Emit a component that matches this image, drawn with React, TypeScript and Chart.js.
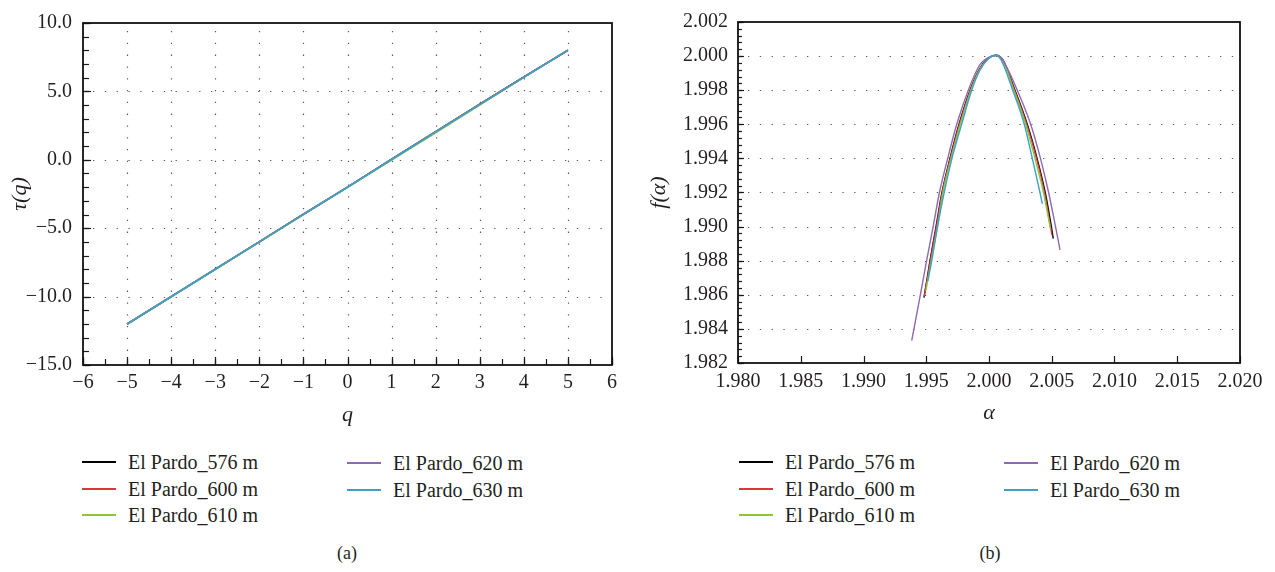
import React, { useEffect, useRef } from "react";
import { Chart, registerables } from "chart.js";

Chart.register(...registerables);

// ---------- data ----------
const seriesNames = ["El Pardo_576 m", "El Pardo_600 m", "El Pardo_610 m", "El Pardo_620 m", "El Pardo_630 m"];
const seriesColors = ["#000000", "#d9363e", "#8cc63f", "#8e6bb1", "#3ba3c6"];

// (a) tau(q)
const qValues = [-5, -4, -3, -2, -1, 0, 1, 2, 3, 4, 5];
const tau576 = [-12.0, -10.0, -8.0, -6.0, -3.98, -2.0, 0.04, 2.05, 4.06, 6.05, 8.0];
const tau600 = [-11.99, -9.99, -7.99, -5.99, -3.97, -2.0, 0.03, 2.04, 4.06, 6.04, 8.02];
const tau610 = [-12.01, -10.01, -8.0, -6.01, -4.0, -2.02, -0.02, 1.98, 4.0, 6.02, 8.04];
const tau620 = [-12.03, -10.02, -8.01, -6.0, -3.99, -2.0, 0.03, 2.05, 4.05, 6.04, 8.01];
const tau630 = [-12.02, -10.01, -8.0, -6.0, -3.99, -2.01, 0.02, 2.04, 4.05, 6.03, 8.02];

// (b) f(alpha)
const alpha576 = [1.99482, 1.9953, 1.99578, 1.99625, 1.99689, 1.99761, 1.99849, 1.99921, 1.99991, 2.00056, 2.0011, 2.00207, 2.00305, 2.00383, 2.00448, 2.00497, 2.00512];
const f576 = [1.98583, 1.988, 1.99, 1.992, 1.994, 1.996, 1.998, 1.9992, 1.99985, 2.00005, 1.99979, 1.998, 1.996, 1.994, 1.992, 1.99, 1.9893];
const alpha600 = [1.99484, 1.99533, 1.99581, 1.99628, 1.99692, 1.99765, 1.99852, 1.99923, 1.99992, 2.00055, 2.00108, 2.00203, 2.003, 2.00378, 2.00442, 2.0049, 2.00502];
const f600 = [1.9859, 1.988, 1.99, 1.992, 1.994, 1.996, 1.998, 1.9992, 1.99985, 2.00005, 1.99979, 1.998, 1.996, 1.994, 1.992, 1.99, 1.9895];
const alpha610 = [1.99497, 1.9954, 1.99589, 1.99633, 1.99698, 1.99771, 1.99856, 1.99926, 1.99994, 2.00055, 2.00105, 2.00198, 2.00292, 2.00366, 2.00434, 2.0049];
const f610 = [1.98625, 1.988, 1.99, 1.992, 1.994, 1.996, 1.998, 1.9992, 1.99985, 2.00005, 1.99979, 1.998, 1.996, 1.994, 1.992, 1.98985];
const alpha620 = [1.99384, 1.99402, 1.99453, 1.99503, 1.99555, 1.99605, 1.99671, 1.99743, 1.99835, 1.99928, 1.9999, 2.00048, 2.00105, 2.00225, 2.00332, 2.0041, 2.00475, 2.0053, 2.00566];
const f620 = [1.98331, 1.984, 1.986, 1.988, 1.99, 1.992, 1.994, 1.996, 1.998, 1.9995, 1.9999, 2.00005, 1.9998, 1.998, 1.996, 1.994, 1.992, 1.99, 1.98863];
const alpha630 = [1.99512, 1.99544, 1.9959, 1.99643, 1.99705, 1.99782, 1.99862, 1.9993, 1.99995, 2.0005, 2.00095, 2.00189, 2.00281, 2.00345, 2.00406, 2.00425];
const f630 = [1.9868, 1.988, 1.99, 1.992, 1.994, 1.996, 1.998, 1.9992, 1.99985, 2.00005, 1.99979, 1.998, 1.996, 1.994, 1.992, 1.99133];

// tick labels
const xTicksA = [-6, -5, -4, -3, -2, -1, 0, 1, 2, 3, 4, 5, 6];
const yTicksA = [-15, -10, -5, 0, 5, 10];
const xTicksB = [1.98, 1.985, 1.99, 1.995, 2.0, 2.005, 2.01, 2.015, 2.02];
const yTicksB = [1.982, 1.984, 1.986, 1.988, 1.99, 1.992, 1.994, 1.996, 1.998, 2.0, 2.002];

// ---------- helpers ----------
const FONT = "'Liberation Serif', 'Times New Roman', serif";
const TEXT = "#231f20";

const fmt = (v: number, d: number) => {
  const s = Math.abs(v).toFixed(d);
  return (v < -1e-9 ? "\u2212" : "") + s;
};

function range(a: number, b: number, step: number) {
  const out: number[] = [];
  const n = Math.round((b - a) / step);
  for (let i = 0; i <= n; i++) out.push(a + i * step);
  return out;
}

type FrameCfg = {
  xGrid: number[];
  yGrid: number[];
  xMajor: number[];
  xMinor: number[];
  yMajor: number[];
  yMinor: number[];
  xMajorLen: number;
  xMinorLen: number;
  yMajorLen: number;
  yMinorLen: number;
};

function framePlugin(id: string, cfg: FrameCfg) {
  return {
    id,
    beforeDatasetsDraw(chart: any) {
      const { ctx, chartArea: a, scales } = chart;
      const xs = scales.x;
      const ys = scales.y;
      ctx.save();
      ctx.strokeStyle = "#5a5a5a";
      ctx.lineWidth = 1.2;
      ctx.setLineDash([1.3, 10.5]);
      for (const v of cfg.xGrid) {
        const px = Math.round(xs.getPixelForValue(v)) + 0.5;
        ctx.lineDashOffset = -8;
        ctx.beginPath();
        ctx.moveTo(px, a.top);
        ctx.lineTo(px, a.bottom);
        ctx.stroke();
      }
      for (const v of cfg.yGrid) {
        const py = Math.round(ys.getPixelForValue(v)) + 0.5;
        ctx.lineDashOffset = -10;
        ctx.beginPath();
        ctx.moveTo(a.left, py);
        ctx.lineTo(a.right, py);
        ctx.stroke();
      }
      ctx.restore();
    },
    afterDatasetsDraw(chart: any) {
      const { ctx, chartArea: a, scales } = chart;
      const xs = scales.x;
      const ys = scales.y;
      ctx.save();
      ctx.setLineDash([]);
      ctx.strokeStyle = "#1a1a1a";
      ctx.lineWidth = 1.2;
      const tick = (x1: number, y1: number, x2: number, y2: number) => {
        ctx.beginPath();
        ctx.moveTo(x1, y1);
        ctx.lineTo(x2, y2);
        ctx.stroke();
      };
      for (const v of cfg.xMinor) {
        const px = Math.round(xs.getPixelForValue(v)) + 0.5;
        tick(px, a.bottom, px, a.bottom - cfg.xMinorLen);
      }
      for (const v of cfg.xMajor) {
        const px = Math.round(xs.getPixelForValue(v)) + 0.5;
        tick(px, a.bottom, px, a.bottom - cfg.xMajorLen);
      }
      for (const v of cfg.yMinor) {
        const py = Math.round(ys.getPixelForValue(v)) + 0.5;
        tick(a.left, py, a.left + cfg.yMinorLen, py);
      }
      for (const v of cfg.yMajor) {
        const py = Math.round(ys.getPixelForValue(v)) + 0.5;
        tick(a.left, py, a.left + cfg.yMajorLen, py);
      }
      ctx.lineWidth = 1.8;
      ctx.strokeStyle = "#111";
      ctx.strokeRect(a.left, a.top, a.right - a.left, a.bottom - a.top);
      ctx.restore();
    },
  };
}

function makeDatasets(xsList: number[][], ysList: number[][], width: number, tension: number) {
  return xsList.map((xs, i) => ({
    label: seriesNames[i],
    data: xs.map((x, j) => ({ x, y: ysList[i][j] })),
    borderColor: seriesColors[i],
    backgroundColor: seriesColors[i],
    borderWidth: width,
    pointRadius: 0,
    showLine: true,
    tension,
    cubicInterpolationMode: tension > 0 ? "monotone" : "default",
    order: 10 - i,
  }));
}

function tickFont() {
  return { family: FONT, size: 20 };
}
function titleFont() {
  return { family: FONT, size: 22, style: "italic" as const };
}

function configA(): any {
  return {
    type: "scatter",
    data: {
      datasets: makeDatasets(
        [qValues, qValues, qValues, qValues, qValues],
        [tau576, tau600, tau610, tau620, tau630],
        1.6,
        0
      ),
    },
    options: {
      responsive: false,
      animation: false,
      events: [],
      layout: { padding: { top: 18, right: 28, left: 0, bottom: 0 } },
      plugins: { legend: { display: false }, tooltip: { enabled: false } },
      scales: {
        x: {
          type: "linear",
          min: -6,
          max: 6,
          afterBuildTicks: (s: any) => {
            s.ticks = xTicksA.map((v) => ({ value: v }));
          },
          afterFit: (s: any) => {
            s.height = 65;
          },
          grid: { display: false, drawTicks: false },
          border: { display: false },
          ticks: { padding: 6, font: tickFont(), color: TEXT, maxRotation: 0, autoSkip: false, callback: (v: number) => fmt(v, 0) },
          title: { display: true, text: "q", font: titleFont(), color: TEXT, padding: { top: 0, bottom: 2 } },
        },
        y: {
          type: "linear",
          min: -15,
          max: 10,
          afterBuildTicks: (s: any) => {
            s.ticks = yTicksA.map((v) => ({ value: v }));
          },
          afterFit: (s: any) => {
            s.width = 83;
          },
          grid: { display: false, drawTicks: false },
          border: { display: false },
          ticks: { padding: 11, font: tickFont(), color: TEXT, autoSkip: false, callback: (v: number) => fmt(v, 1) },
          title: { display: true, text: "\u03c4(q)", font: titleFont(), color: TEXT, padding: { top: 7, bottom: 0 } },
        },
      },
    },
    plugins: [
      framePlugin("frameA", {
        xGrid: [-5, -4, -3, -2, -1, 0, 1, 2, 3, 4, 5],
        yGrid: [-10, -5, 0, 5],
        xMajor: xTicksA,
        xMinor: range(-6, 6, 0.5),
        yMajor: yTicksA,
        yMinor: range(-15, 10, 1),
        xMajorLen: 8,
        xMinorLen: 6,
        yMajorLen: 8,
        yMinorLen: 6,
      }),
    ],
  };
}

function configB(): any {
  return {
    type: "scatter",
    data: {
      datasets: makeDatasets(
        [alpha576, alpha600, alpha610, alpha620, alpha630],
        [f576, f600, f610, f620, f630],
        1.4,
        0.4
      ),
    },
    options: {
      responsive: false,
      animation: false,
      events: [],
      layout: { padding: { top: 17, right: 35, left: 0, bottom: 0 } },
      plugins: { legend: { display: false }, tooltip: { enabled: false } },
      scales: {
        x: {
          type: "linear",
          min: 1.98,
          max: 2.02,
          afterBuildTicks: (s: any) => {
            s.ticks = xTicksB.map((v) => ({ value: v }));
          },
          afterFit: (s: any) => {
            s.height = 67;
          },
          grid: { display: false, drawTicks: false },
          border: { display: false },
          ticks: { padding: 7, font: tickFont(), color: TEXT, maxRotation: 0, autoSkip: false, callback: (v: number) => v.toFixed(3) },
          title: { display: true, text: "\u03b1", font: titleFont(), color: TEXT, padding: { top: 0, bottom: 4 } },
        },
        y: {
          type: "linear",
          min: 1.982,
          max: 2.002,
          afterBuildTicks: (s: any) => {
            s.ticks = yTicksB.map((v) => ({ value: v }));
          },
          afterFit: (s: any) => {
            s.width = 98;
          },
          grid: { display: false, drawTicks: false },
          border: { display: false },
          ticks: { padding: 10, font: tickFont(), color: TEXT, autoSkip: false, callback: (v: number) => v.toFixed(3) },
          title: { display: true, text: "f(\u03b1)", font: titleFont(), color: TEXT, padding: { top: 6, bottom: 0 } },
        },
      },
    },
    plugins: [
      framePlugin("frameB", {
        xGrid: [],
        yGrid: yTicksB.slice(1, -1),
        xMajor: xTicksB,
        xMinor: [],
        yMajor: yTicksB,
        yMinor: range(1.982, 2.002, 0.0004),
        xMajorLen: 7,
        xMinorLen: 0,
        yMajorLen: 6,
        yMinorLen: 4,
      }),
    ],
  };
}

function ChartCanvas({ left, top, width, height, make }: { left: number; top: number; width: number; height: number; make: () => any }) {
  const ref = useRef<HTMLCanvasElement | null>(null);
  useEffect(() => {
    if (!ref.current) return;
    const chart = new Chart(ref.current, make());
    return () => chart.destroy();
  }, []);
  return (
    <canvas
      ref={ref}
      width={width}
      height={height}
      style={{ position: "absolute", left, top, width, height, display: "block" }}
    />
  );
}

function Legend({ col1, col2 }: { col1: number; col2: number }) {
  const rows = [462, 489, 515];
  const items = seriesNames.map((name, i) => {
    const x = i < 3 ? col1 : col2;
    const y = i < 3 ? rows[i] : rows[i - 3] + 1;
    return (
      <div
        key={name}
        style={{
          position: "absolute",
          left: x,
          top: y - 13,
          height: 26,
          display: "flex",
          alignItems: "center",
          whiteSpace: "nowrap",
        }}
      >
        <div style={{ width: 34, height: 2, background: seriesColors[i], marginRight: 12, flex: "0 0 34px" }} />
        <span style={{ fontFamily: FONT, fontSize: 20, color: TEXT, lineHeight: "26px" }}>{name}</span>
      </div>
    );
  });
  return <>{items}</>;
}

function Caption({ cx, text }: { cx: number; text: string }) {
  return (
    <div
      style={{
        position: "absolute",
        left: cx - 40,
        width: 80,
        top: 541,
        textAlign: "center",
        fontFamily: FONT,
        fontSize: 18,
        color: TEXT,
        lineHeight: "24px",
      }}
    >
      {text}
    </div>
  );
}

export default function App() {
  return (
    <div style={{ position: "fixed", left: 0, top: 0, width: 1275, height: 572, background: "#ffffff", overflow: "hidden" }}>
      <ChartCanvas left={0} top={0} width={640} height={430} make={configA} />
      <ChartCanvas left={640} top={0} width={635} height={430} make={configB} />
      <Legend col1={82} col2={347} />
      <Legend col1={739} col2={1004} />
      <Caption cx={347} text="(a)" />
      <Caption cx={990} text="(b)" />
    </div>
  );
}
